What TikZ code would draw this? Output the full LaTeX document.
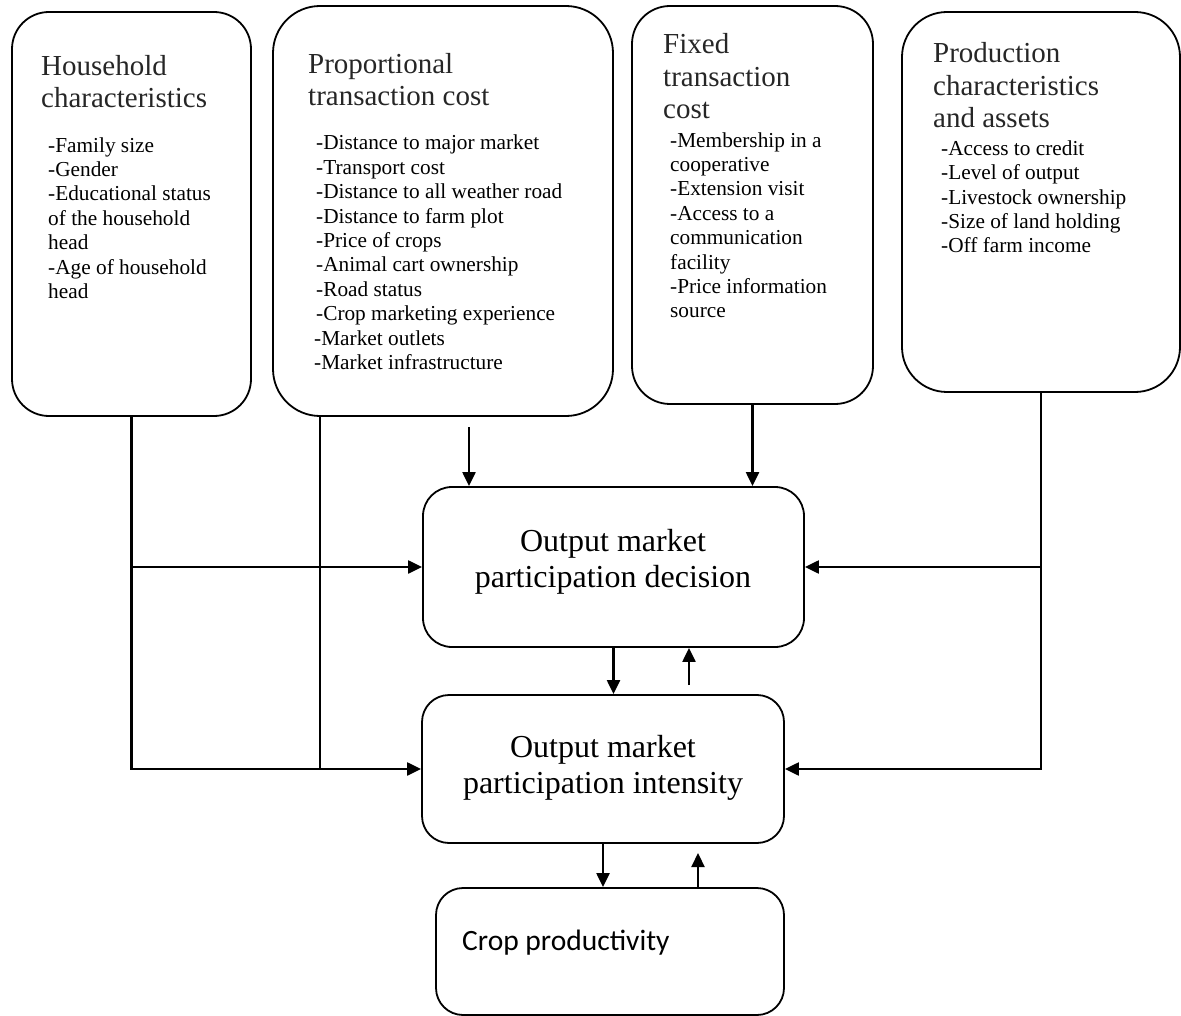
\documentclass[tikz,border=0pt]{standalone}
\usepackage{fontspec}
\setmainfont{Liberation Serif}
\newfontfamily\calibfont{Carlito}
\usepackage{tikz}
\usetikzlibrary{arrows.meta}
\usetikzlibrary{positioning}

\tikzset{
	panel/.style={draw, line width=1.8pt, rounded corners=#1, inner sep=0pt},
	txt/.style={anchor=base west, inner sep=0pt, align=left},
	headfont/.style={font=\fontsize{29}{32.7}\selectfont, text=black!85},
	itemfont/.style={font=\fontsize{21.3}{24.4}\selectfont},
	wire/.style={line width=2.2pt},
	flow/.style={line width=2.2pt, -{Triangle[length=14pt,width=13pt]}}
}

\begin{document}
\begin{tikzpicture}[x=1pt, y=-1pt]
			\useasboundingbox (0,0) rectangle (1181,1016);
			% upper boxes
			\node[panel=37pt, minimum width=239pt, minimum height=404pt] (hh) at (131.5,214) {};
			\node[panel=47pt, minimum width=340pt, minimum height=410pt] (ptc) at (443,211) {};
			\node[panel=38pt, minimum width=241pt, minimum height=398pt] (ftc) at (752.5,205) {};
			\node[panel=45pt, minimum width=278pt, minimum height=380pt] (pca) at (1041,202) {};
			% lower boxes
			\node[panel=29pt, minimum width=381pt, minimum height=160pt] (dec) at (613.5,567) {};
			\node[panel=27pt, minimum width=362pt, minimum height=148pt] (int) at (603,769) {};
			\node[panel=27pt, minimum width=348pt, minimum height=127pt] (crop) at (610,951.5) {};

			% texts (base = last line)
			\node[txt, headfont] (hhhead) at (41,108) {Household\\characteristics};
			\node[txt, itemfont] (hhlist) at (48,298.5) {-Family size\\-Gender\\-Educational status\\of the household\\head\\-Age of household\\head};
			\node[txt, headfont] (ptchead) at (308,106) {Proportional\\transaction cost};
			\node[txt, itemfont] (ptclist) at (316,369.5) {-Distance to major market\\-Transport cost\\-Distance to all weather road\\-Distance to farm plot\\-Price of crops\\-Animal cart ownership\\-Road status\\-Crop marketing experience\\\hspace*{-2pt}-Market outlets\\\hspace*{-2pt}-Market infrastructure};
			\node[txt, headfont] (ftchead) at (663,119) {Fixed\\transaction\\cost};
			\node[txt, itemfont] (ftclist) at (670,318) {-Membership in a\\cooperative\\-Extension visit\\-Access to a\\communication\\facility\\-Price information\\source};
			\node[txt, headfont] (pcahead) at (933,128) {Production\\characteristics\\and assets};
			\node[txt, itemfont] (pcalist) at (941,253) {-Access to credit\\-Level of output\\-Livestock ownership\\-Size of land holding\\-Off farm income};

			\node[anchor=base, inner sep=0pt, align=center, font=\fontsize{32}{36}\selectfont] (dectext) at (613,587) {Output market\\participation decision};
			\node[anchor=base, inner sep=0pt, align=center, font=\fontsize{32}{36}\selectfont] (inttext) at (603,793) {Output market\\participation intensity};
			\node[txt, font=\calibfont\fontsize{29.5}{34}\selectfont] (croptext) at (462,950) {Crop productivity};

			% connectors
			\coordinate (ptcin) at (469,427);
			\coordinate (upA) at (689,685);
			\coordinate (upB) at (698,853);
			\draw[flow] (hh.south) |- (int.west);
			\draw[flow] (hh.south |- dec.west) -- (dec.west);
			\draw[wire] ([xshift=48pt]ptc.south west) -- ([xshift=48pt]ptc.south west |- int.west);
			\draw[flow] (ptcin) -- (ptcin |- dec.north);
			\draw[flow] (ftc.south) -- (ftc.south |- dec.north);
			\draw[flow] (pca.south) |- (int.east);
			\draw[flow] (pca.south |- dec.east) -- (dec.east);
			\draw[flow] (dec.south) -- (dec.south |- int.north);
			\draw[flow] (upA) -- (upA |- dec.south);
			\draw[flow] (int.south) -- (int.south |- crop.north);
			\draw[flow] (crop.north -| upB) -- (upB);
\end{tikzpicture}
\end{document}
